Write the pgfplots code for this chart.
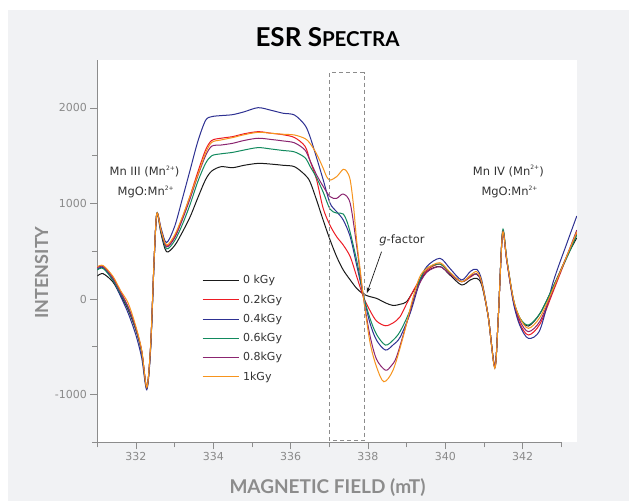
\documentclass[border=0pt]{standalone}
\usepackage{fontspec}
\setmainfont{DejaVu Sans}
\newfontfamily\gill{Lato}
\usepackage{pgfplots}
\pgfplotsset{compat=1.18}
\usetikzlibrary{arrows.meta}
\definecolor{bggray}{HTML}{F1F2F4}
\definecolor{axisgray}{HTML}{8C8C8C}
\definecolor{ticklabel}{HTML}{8A8A8A}
\definecolor{textdark}{HTML}{333333}
\definecolor{cblack}{HTML}{1A1A1A}
\definecolor{cred}{HTML}{ED1C24}
\definecolor{cblue}{HTML}{2E3192}
\definecolor{cgreen}{HTML}{128A5E}
\definecolor{cpurple}{HTML}{8B2570}
\definecolor{corange}{HTML}{F7941D}
\newcommand\sups[1]{\raisebox{0.45em}{\fontsize{6}{6}\selectfont #1}}
\begin{document}
\begin{tikzpicture}[x=1pt,y=1pt]
\fill[white] (0,0) rectangle (629,501);
\fill[bggray] (8,0) rectangle (629,491);
\begin{axis}[
  at={(97.3pt,58.7pt)}, anchor=south west,
  scale only axis, width=479.5pt, height=382.1pt,
  xmin=331, xmax=343.4, ymin=-1500, ymax=2500,
  axis background/.style={fill=white},
  axis x line*=bottom, axis y line*=left,
  x axis line style={draw=none},
  y axis line style={axisgray, line width=0.8pt},
  xtick={332,334,...,342}, minor xtick={331,333,...,343},
  ytick={-1000,0,1000,2000}, minor ytick={-1500,-500,500,1500},
  tick align=outside,
  major tick length=7pt, minor tick length=5pt,
  every tick/.style={axisgray, line width=0.8pt},
  tick label style={font=\fontsize{11}{13}\selectfont, text=ticklabel},
  /pgf/number format/assume math mode=true,
  /pgf/number format/set thousands separator={},
  clip mode=individual,
  legend style={at={(axis description cs:0.218,0.442)}, anchor=north west,
    draw=none, fill=none, font=\fontsize{11}{13}\selectfont, text=textdark,
    row sep=5.4pt, column sep=2pt, inner sep=0pt},
  legend image code/.code={\draw[#1, line width=1.1pt] (0pt,0pt) -- (36pt,0pt);},
  legend cell align=left,
  every axis plot/.append style={line width=1pt, smooth, tension=0.5},
]
\addplot[cblack] coordinates {(331.00,241) (331.15,265) (331.4,180) (331.6,40) (331.8,-115) (332.0,-330) (332.15,-560) (332.28,-932) (332.38,-500) (332.47,400) (332.54,890) (332.65,680) (332.79,495) (333.0,560) (333.2,700) (333.4,860) (333.6,1060) (333.8,1250) (333.96,1340) (334.2,1385) (334.5,1375) (334.8,1400) (335.16,1420) (335.5,1412) (335.8,1400) (336.1,1385) (336.37,1300) (336.5,1228) (336.67,1037) (336.84,827) (337.02,618) (337.19,443) (337.36,304) (337.54,200) (337.71,110) (337.88,52) (338.05,25) (338.22,7) (338.45,-40) (338.65,-68) (338.83,-55) (339.0,-28) (339.2,100) (339.52,286) (339.86,340) (340.12,251) (340.42,147) (340.65,200) (340.81,217) (340.94,147) (341.11,-185) (341.28,-709) (341.37,-185) (341.48,700) (341.59,408) (341.76,-10) (341.93,-202) (342.15,-283) (342.45,-150) (342.79,129) (343.14,443) (343.40,640)};
\addlegendentry{0 kGy}
\addplot[cred] coordinates {(331.00,330) (331.15,345) (331.4,230) (331.6,80) (331.8,-90) (332.0,-310) (332.15,-550) (332.28,-925) (332.38,-480) (332.47,420) (332.54,895) (332.65,720) (332.79,555) (333.0,650) (333.2,850) (333.4,1080) (333.6,1330) (333.8,1560) (333.96,1660) (334.2,1683) (334.5,1700) (334.8,1730) (335.16,1752) (335.5,1735) (335.8,1720) (336.1,1690) (336.37,1600) (336.5,1450) (336.67,1250) (336.84,950) (337.02,770) (337.19,652) (337.36,565) (337.54,443) (337.71,233) (337.88,24) (338.05,-120) (338.22,-230) (338.45,-280) (338.65,-250) (338.83,-185) (339.0,-50) (339.26,150) (339.52,300) (339.86,366) (340.12,270) (340.42,181) (340.65,230) (340.81,262) (340.94,170) (341.11,-185) (341.28,-709) (341.37,-185) (341.48,690) (341.59,400) (341.76,-20) (341.93,-260) (342.15,-377) (342.45,-260) (342.79,80) (343.14,440) (343.40,688)};
\addlegendentry{0.2kGy}
\addplot[cblue] coordinates {(331.00,310) (331.15,330) (331.4,200) (331.6,30) (331.8,-150) (332.0,-380) (332.15,-620) (332.28,-950) (332.38,-520) (332.47,400) (332.54,890) (332.65,740) (332.79,590) (333.0,760) (333.2,1050) (333.4,1350) (333.6,1650) (333.8,1870) (333.96,1909) (334.2,1920) (334.5,1930) (334.8,1960) (335.16,2003) (335.5,1975) (335.8,1945) (336.1,1926) (336.37,1820) (336.5,1700) (336.67,1480) (336.84,1250) (337.02,1002) (337.19,914) (337.36,827) (337.54,652) (337.71,350) (337.88,40) (338.05,-250) (338.22,-430) (338.45,-534) (338.65,-480) (338.83,-400) (339.09,-150) (339.34,180) (339.52,340) (339.86,426) (340.12,320) (340.42,199) (340.65,290) (340.81,311) (340.94,200) (341.11,-185) (341.28,-720) (341.37,-185) (341.48,690) (341.59,400) (341.76,-40) (341.93,-280) (342.15,-412) (342.45,-320) (342.79,180) (343.14,580) (343.40,869)};
\addlegendentry{0.4kGy}
\addplot[cgreen] coordinates {(331.00,304) (331.15,320) (331.4,200) (331.6,55) (331.8,-100) (332.0,-320) (332.15,-560) (332.28,-930) (332.38,-490) (332.47,420) (332.54,900) (332.65,700) (332.79,525) (333.0,610) (333.2,780) (333.4,990) (333.6,1230) (333.8,1420) (333.96,1500) (334.2,1520) (334.5,1535) (334.8,1560) (335.16,1585) (335.5,1570) (335.8,1555) (336.1,1540) (336.37,1480) (336.5,1390) (336.67,1270) (336.84,1120) (337.02,940) (337.19,900) (337.36,890) (337.5,757) (337.71,400) (337.88,40) (338.05,-200) (338.22,-370) (338.45,-482) (338.65,-430) (338.83,-340) (339.09,-115) (339.34,199) (339.52,320) (339.86,366) (340.12,275) (340.42,181) (340.65,240) (340.81,262) (340.94,170) (341.11,-185) (341.28,-709) (341.37,-185) (341.48,715) (341.59,420) (341.76,0) (341.93,-200) (342.15,-272) (342.45,-150) (342.79,130) (343.14,430) (343.40,670)};
\addlegendentry{0.6kGy}
\addplot[cpurple] coordinates {(331.00,328) (331.15,340) (331.4,220) (331.6,70) (331.8,-85) (332.0,-310) (332.15,-550) (332.28,-930) (332.38,-490) (332.47,420) (332.54,895) (332.65,710) (332.79,545) (333.0,640) (333.2,830) (333.4,1050) (333.6,1290) (333.8,1500) (333.96,1600) (334.2,1612) (334.5,1630) (334.8,1660) (335.16,1683) (335.5,1670) (335.8,1655) (336.1,1635) (336.37,1560) (336.5,1450) (336.67,1300) (336.84,1180) (337.02,1071) (337.19,1054) (337.36,1099) (337.54,1002) (337.71,548) (337.88,24) (338.05,-380) (338.22,-630) (338.45,-745) (338.6,-700) (338.74,-604) (339.0,-254) (339.26,94) (339.52,280) (339.86,338) (340.12,260) (340.42,181) (340.65,240) (340.81,262) (340.94,170) (341.11,-185) (341.28,-709) (341.37,-185) (341.48,690) (341.59,400) (341.76,-10) (341.93,-230) (342.15,-342) (342.45,-230) (342.79,100) (343.14,450) (343.40,722)};
\addlegendentry{0.8kGy}
\addplot[corange] coordinates {(331.00,338) (331.15,350) (331.4,240) (331.6,90) (331.8,-45) (332.0,-290) (332.15,-540) (332.28,-925) (332.38,-480) (332.47,420) (332.54,895) (332.65,720) (332.79,565) (333.0,670) (333.2,860) (333.4,1080) (333.6,1300) (333.8,1530) (333.96,1640) (334.2,1665) (334.5,1690) (334.8,1720) (335.16,1745) (335.5,1735) (335.8,1725) (336.1,1717) (336.37,1680) (336.5,1630) (336.67,1520) (336.84,1370) (336.93,1281) (337.02,1245) (337.19,1281) (337.36,1358) (337.46,1330) (337.54,1246) (337.62,1000) (337.71,600) (337.8,300) (337.88,24) (338.05,-450) (338.22,-709) (338.41,-866) (338.65,-743) (338.91,-395) (339.17,24) (339.34,233) (339.52,320) (339.86,380) (340.12,280) (340.42,181) (340.65,250) (340.81,286) (340.94,180) (341.11,-185) (341.28,-726) (341.37,-185) (341.48,688) (341.59,410) (341.76,0) (341.93,-200) (342.15,-307) (342.45,-190) (342.79,110) (343.14,450) (343.40,703)};
\addlegendentry{1kGy}
\draw[axisgray, line width=0.8pt] (axis cs:331,-1500) -- (axis cs:343,-1500);
\draw[axisgray, line width=0.8pt, dash pattern=on 4pt off 3pt] (axis cs:337.0,-1484) rectangle (axis cs:337.9,2370);
\node[font=\fontsize{11.5}{13}\selectfont, text=textdark] at (axis cs:332.22,1333) {Mn III (Mn\sups{2+})};
\node[font=\fontsize{11.5}{13}\selectfont, text=textdark] at (axis cs:332.25,1123) {MgO:Mn\sups{2+}};
\node[font=\fontsize{11.5}{13}\selectfont, text=textdark] at (axis cs:341.63,1340) {Mn IV (Mn\sups{2+})};
\node[font=\fontsize{11.5}{13}\selectfont, text=textdark] at (axis cs:341.66,1123) {MgO:Mn\sups{2+}};
\node[font=\fontsize{11.5}{13}\selectfont, text=textdark] at (axis cs:338.88,618) {\textit{g}-factor};
\draw[-{Stealth[length=6pt,width=4pt]}, line width=0.7pt, cblack] (axis cs:338.35,495) -- (axis cs:337.97,60);
\end{axis}
\node[font=\gill\bfseries\fontsize{26}{26}\selectfont, anchor=base, text=black] at (327.5,454) {ESR S{\fontsize{20.5}{20}\selectfont PECTRA}};
\node[font=\gill\bfseries\fontsize{19}{19}\selectfont, anchor=base, text=axisgray] at (327.5,7.7) {MAGNETIC FIELD (mT)};
\node[font=\gill\bfseries\fontsize{18}{18}\selectfont, anchor=base, rotate=90, text=axisgray] at (48,228.5) {INTENSITY};
\pgfresetboundingbox
\path (0,0) rectangle (629,501);
\end{tikzpicture}
\end{document}
